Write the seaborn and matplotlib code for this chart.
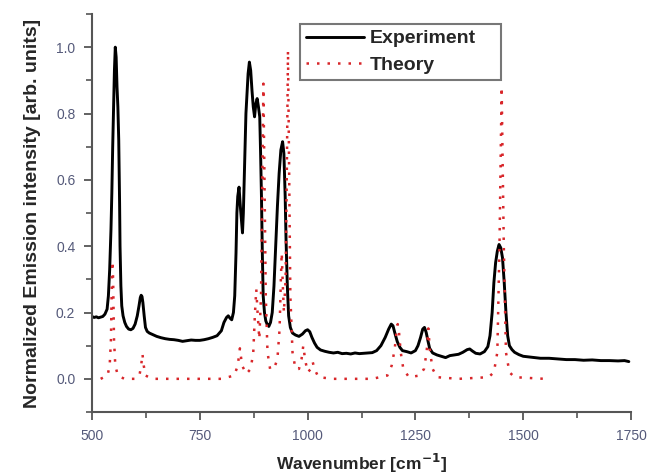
import numpy as np
import pandas as pd
import matplotlib
matplotlib.use("Agg")
import matplotlib.pyplot as plt
from matplotlib.ticker import MultipleLocator
import seaborn as sns

# Measured emission spectrum (wavenumber, normalized intensity)
exp_wavenumber = [
    500, 505, 510, 515, 520, 525, 530, 535, 538, 541, 544, 546, 548, 550, 552, 554,
    556, 558, 560, 562, 564, 565, 567, 569, 572, 576, 580, 585, 590, 595, 600, 605,
    609, 612, 614, 616, 618, 621, 624, 628, 633, 640, 650, 660, 670, 680, 690, 700,
    710, 720, 730, 740, 750, 760, 770, 780, 790, 800, 806, 812, 816, 820, 824, 828,
    831, 834, 836, 838, 841, 844, 847, 849, 851, 854, 857, 860, 862, 865, 868, 871,
    874, 877, 880, 883, 886, 889, 891, 893, 895, 897, 900, 903, 906, 910, 914, 918,
    922, 926, 930, 934, 938, 942, 945, 948, 950, 953, 956, 960, 965, 972, 980, 988,
    995, 1000, 1005, 1010, 1016, 1022, 1030, 1040, 1050, 1060, 1070, 1080, 1090, 1100,
    1110, 1120, 1130, 1140, 1150, 1160, 1170, 1180, 1188, 1194, 1198, 1203, 1208, 1214,
    1220, 1230, 1240, 1250, 1256, 1262, 1267, 1271, 1275, 1279, 1283, 1290, 1300, 1310,
    1320, 1330, 1340, 1350, 1360, 1370, 1376, 1382, 1390, 1400, 1410, 1418, 1423, 1428,
    1432, 1436, 1440, 1444, 1448, 1452, 1456, 1460, 1464, 1468, 1474, 1480, 1490, 1500,
    1520, 1540, 1560, 1580, 1600, 1620, 1640, 1660, 1680, 1700, 1720, 1735, 1745,
]
exp_intensity = [
    0.188, 0.185, 0.187, 0.184, 0.186, 0.188, 0.195, 0.210, 0.250, 0.330, 0.450, 0.560, 0.700, 0.820, 0.930, 1.000,
    0.970, 0.880, 0.820, 0.720, 0.530, 0.400, 0.280, 0.220, 0.190, 0.170, 0.158, 0.150, 0.148, 0.152, 0.165, 0.190,
    0.220, 0.245, 0.252, 0.248, 0.230, 0.190, 0.155, 0.143, 0.138, 0.134, 0.128, 0.124, 0.121, 0.119, 0.118, 0.116,
    0.113, 0.115, 0.117, 0.116, 0.116, 0.118, 0.121, 0.125, 0.130, 0.145, 0.170, 0.185, 0.190, 0.183, 0.178, 0.200,
    0.250, 0.380, 0.500, 0.550, 0.578, 0.520, 0.470, 0.440, 0.500, 0.650, 0.800, 0.870, 0.920, 0.955, 0.930, 0.870,
    0.820, 0.790, 0.830, 0.845, 0.820, 0.790, 0.680, 0.550, 0.380, 0.250, 0.200, 0.175, 0.165, 0.158, 0.170, 0.200,
    0.280, 0.400, 0.520, 0.620, 0.690, 0.715, 0.680, 0.550, 0.420, 0.280, 0.190, 0.155, 0.138, 0.132, 0.128, 0.135,
    0.145, 0.148, 0.142, 0.125, 0.108, 0.095, 0.087, 0.083, 0.080, 0.078, 0.080, 0.076, 0.077, 0.075,
    0.078, 0.076, 0.077, 0.078, 0.079, 0.085, 0.100, 0.125, 0.150, 0.165, 0.160, 0.135, 0.112, 0.095,
    0.085, 0.082, 0.078, 0.085, 0.100, 0.125, 0.150, 0.155, 0.140, 0.115, 0.092, 0.078, 0.072, 0.068,
    0.064, 0.070, 0.072, 0.074, 0.080, 0.088, 0.090, 0.084, 0.077, 0.075, 0.082, 0.097, 0.130, 0.200,
    0.290, 0.350, 0.385, 0.405, 0.395, 0.365, 0.290, 0.200, 0.130, 0.100, 0.088, 0.080, 0.073, 0.068,
    0.065, 0.062, 0.062, 0.060, 0.058, 0.058, 0.056, 0.057, 0.055, 0.055, 0.054, 0.055, 0.052,
]

# Calculated spectrum (wavenumber, normalized intensity)
theory_wavenumber = [
    520, 536, 541, 544, 546, 547.5, 549, 551, 554, 560, 575, 600, 610, 614, 617, 620, 624, 640,
    700, 800, 830, 838, 843, 848, 858, 868, 874, 878, 881, 884, 888, 892, 895, 897.5, 900, 903,
    907, 913, 922, 930, 935, 938, 940, 942, 945, 949, 952, 954.5, 957, 960, 965, 972, 980, 986,
    990, 994, 1000, 1008, 1012, 1016, 1025, 1060, 1150, 1185, 1195, 1202, 1206, 1209, 1212, 1216,
    1222, 1235, 1260, 1270, 1276, 1280, 1284, 1290, 1300, 1350, 1420, 1432, 1440, 1445, 1450,
    1455, 1460, 1468, 1480, 1550,
]
theory_intensity = [
    0.0, 0.01, 0.04, 0.12, 0.30, 0.355, 0.30, 0.12, 0.04, 0.01, 0.0, 0.0, 0.01, 0.04, 0.075, 0.04, 0.01, 0.0,
    0.0, 0.0, 0.01, 0.04, 0.092, 0.04, 0.015, 0.03, 0.08, 0.20, 0.27, 0.20, 0.12, 0.25, 0.60, 0.89, 0.60, 0.25,
    0.08, 0.03, 0.03, 0.06, 0.15, 0.30, 0.38, 0.30, 0.20, 0.30, 0.65, 0.99, 0.65, 0.25, 0.08, 0.03, 0.03, 0.06,
    0.10, 0.06, 0.02, 0.03, 0.05, 0.03, 0.005, 0.0, 0.0, 0.01, 0.04, 0.09, 0.14, 0.165, 0.14, 0.08,
    0.03, 0.005, 0.01, 0.03, 0.08, 0.152, 0.08, 0.03, 0.005, 0.0, 0.005, 0.02, 0.08, 0.40, 0.88,
    0.40, 0.08, 0.02, 0.005, 0.0,
]

x_ticks = [500, 750, 1000, 1250, 1500, 1750]
y_ticks = [0.0, 0.2, 0.4, 0.6, 0.8, 1.0]

exp_df = pd.DataFrame({"wavenumber": exp_wavenumber, "intensity": exp_intensity})
theory_df = pd.DataFrame({"wavenumber": theory_wavenumber, "intensity": theory_intensity})

sns.set_style("ticks")
plt.rcParams["font.family"] = ["Liberation Sans", "DejaVu Sans"]

axis_grey = "#555555"
tick_text = "#555a7a"

fig = plt.figure(figsize=(6.49, 4.74), dpi=100)
ax = fig.add_axes([92 / 649, 1 - 412 / 474, 539 / 649, 398 / 474])

sns.lineplot(data=exp_df, x="wavenumber", y="intensity", ax=ax, color="black",
             linewidth=2.1, label="Experiment", sort=False, estimator=None)
sns.lineplot(data=theory_df, x="wavenumber", y="intensity", ax=ax, color="#d8262a",
             linewidth=1.8, label="Theory", sort=False, estimator=None)
ax.lines[1].set_dashes([1, 3.2])
ax.lines[1].set_dash_capstyle("butt")

ax.set_xlim(500, 1750)
ax.set_ylim(-0.1, 1.1)
ax.set_xticks(x_ticks)
ax.set_yticks(y_ticks)
ax.set_yticklabels([f"{v:.1f}" for v in y_ticks])
ax.xaxis.set_minor_locator(MultipleLocator(125))
ax.yaxis.set_minor_locator(MultipleLocator(0.1))

for side in ("top", "right"):
    ax.spines[side].set_visible(False)
for side in ("left", "bottom"):
    ax.spines[side].set_color(axis_grey)
    ax.spines[side].set_linewidth(1.5)

ax.tick_params(which="major", direction="out", length=6, width=1.3, color=axis_grey,
               labelsize=10, labelcolor=tick_text, pad=6)
ax.tick_params(which="minor", direction="out", length=4, width=1.2, color=axis_grey)

ax.set_xlabel("Wavenumber [cm$^{\\mathbf{-1}}$]", fontsize=12.5, fontweight="bold", labelpad=7)
ax.set_ylabel("Normalized Emission intensity [arb. units]", fontsize=14, fontweight="bold", labelpad=11)

leg = ax.legend(loc="upper left", bbox_to_anchor=(0.386, 0.829, 0.373, 0.146), mode="expand",
                borderaxespad=0, frameon=True, fancybox=False, handlelength=3.0,
                handletextpad=0.3, borderpad=0.3, labelspacing=0.45,
                prop={"weight": "bold", "size": 14})
leg.get_frame().set_edgecolor(axis_grey)
leg.get_frame().set_linewidth(1.5)

fig.savefig("out.png", dpi=100)
